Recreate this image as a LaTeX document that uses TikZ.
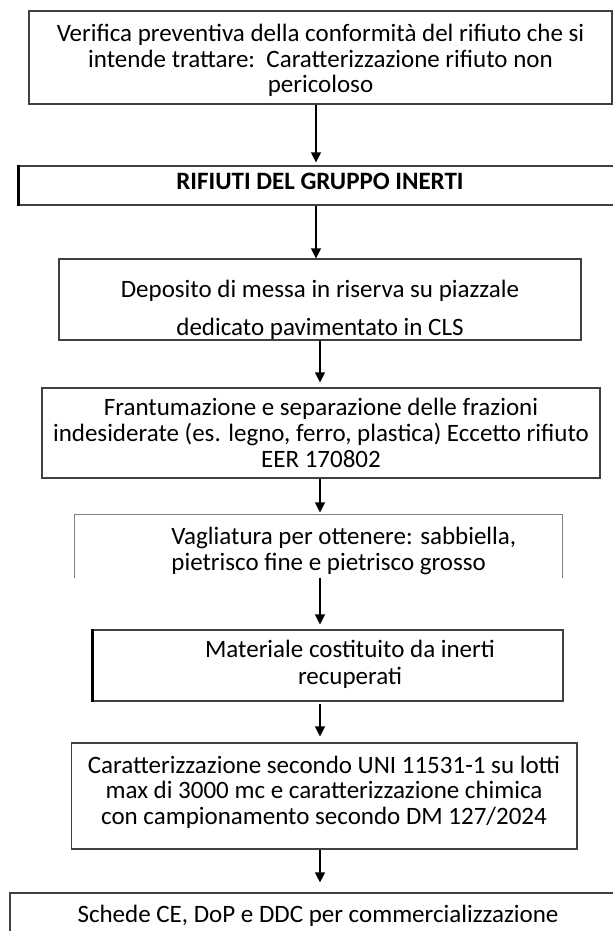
\documentclass[tikz,border=0pt]{standalone}
\usepackage{fontspec}
\setmainfont{Carlito}
\usetikzlibrary{arrows.meta}
\tikzset{>={Triangle[length=5pt,width=5pt]}}
\tikzset{
    stepbox/.style 2 args = {draw=black!75, line width=0.6pt, inner sep=0pt, minimum width={#1*0.5pt}, minimum height={#2*0.5pt}},
    steptext/.style = {align=center, inner sep=0pt, font=\fontsize{12.5pt}{12.8pt}\selectfont},
    flow/.style = {->, line width=0.65pt},
}

\begin{document}
\begin{tikzpicture}[x=0.5pt,y=-0.5pt]
\useasboundingbox (0,0) rectangle (613,931);
\coordinate (axisA) at (316,0);
\coordinate (axisB) at (320,0);
\node[stepbox={583}{93}] (verifica) at (320.5,57.5) {};
\node[steptext] (verifica-t) at (320.5,60.5) {Verifica preventiva della conformità del rifiuto che si\\intende trattare:\ \ Caratterizzazione rifiuto non\\pericoloso};
\node[stepbox={602}{39}] (inerti) at (320,185.5) {};
\node[steptext, font=\fontsize{12.5pt}{12.8pt}\selectfont\bfseries] (inerti-t) at (320,181) {RIFIUTI DEL GRUPPO INERTI};
\node[stepbox={522}{81}] (deposito) at (320,299.5) {};
\node[steptext] (deposito-t) at (320,310) {Deposito di messa in riserva su piazzale\\[6.2pt]dedicato pavimentato in CLS};
\node[stepbox={558}{90}, steptext] (frantumazione) at (321,433) {Frantumazione e separazione delle frazioni\\indesiderate (es. legno, ferro, plastica) Eccetto rifiuto\\EER 170802};
\node[stepbox={487}{62}, draw=none] (vagliatura) at (318.5,546) {};
\node[steptext, anchor=west, align=left] (vagliatura-t) at (171,551) {Vagliatura per ottenere: sabbiella,\\[0.3pt]pietrisco fine e pietrisco grosso};
\node[stepbox={470}{71}] (materiale) at (328,665.5) {};
\node[steptext] (materiale-t) at (350,664) {Materiale costituito da inerti\\[0.7pt]recuperati};
\node[stepbox={505.5}{106}] (caratterizzazione) at (324.25,796) {};
\node[steptext] (caratterizzazione-t) at (324,792) {Caratterizzazione secondo UNI 11531-1 su lotti\\max di 3000 mc e caratterizzazione chimica\\con campionamento secondo DM 127/2024};
\node[stepbox={616}{74}] (schede) at (318,930) {};
\node[steptext] (schede-t) at (318,916) {Schede CE, DoP e DDC per commercializzazione};

\draw[line width=0.6pt, draw=black!50] (vagliatura.south west) |- (vagliatura.north east) -- (vagliatura.south east);
\draw[line width=1.2pt] (inerti.north west) -- (inerti.south west);
\draw[line width=1.2pt] (materiale.north west) -- (materiale.south west);

\draw[flow, shorten >=1.5pt] (verifica.south -| axisA) -- (inerti.north -| axisA);
\draw[flow] (inerti.south -| axisA) -- (deposito.north -| axisA);
\draw[flow, shorten >=2.5pt] (deposito.south -| axisB) -- (frantumazione.north -| axisB);
\draw[flow, shorten >=1pt] (frantumazione.south -| axisB) -- (vagliatura.north -| axisB);
\draw[flow, shorten >=2.5pt] (vagliatura.south -| axisB) -- (materiale.north -| axisB);
\draw[flow, shorten <=1pt, shorten >=3pt] (materiale.south -| axisB) -- (caratterizzazione.north -| axisB);
\draw[flow, shorten >=5pt] (caratterizzazione.south -| axisB) -- (schede.north -| axisB);
\end{tikzpicture}
\end{document}
